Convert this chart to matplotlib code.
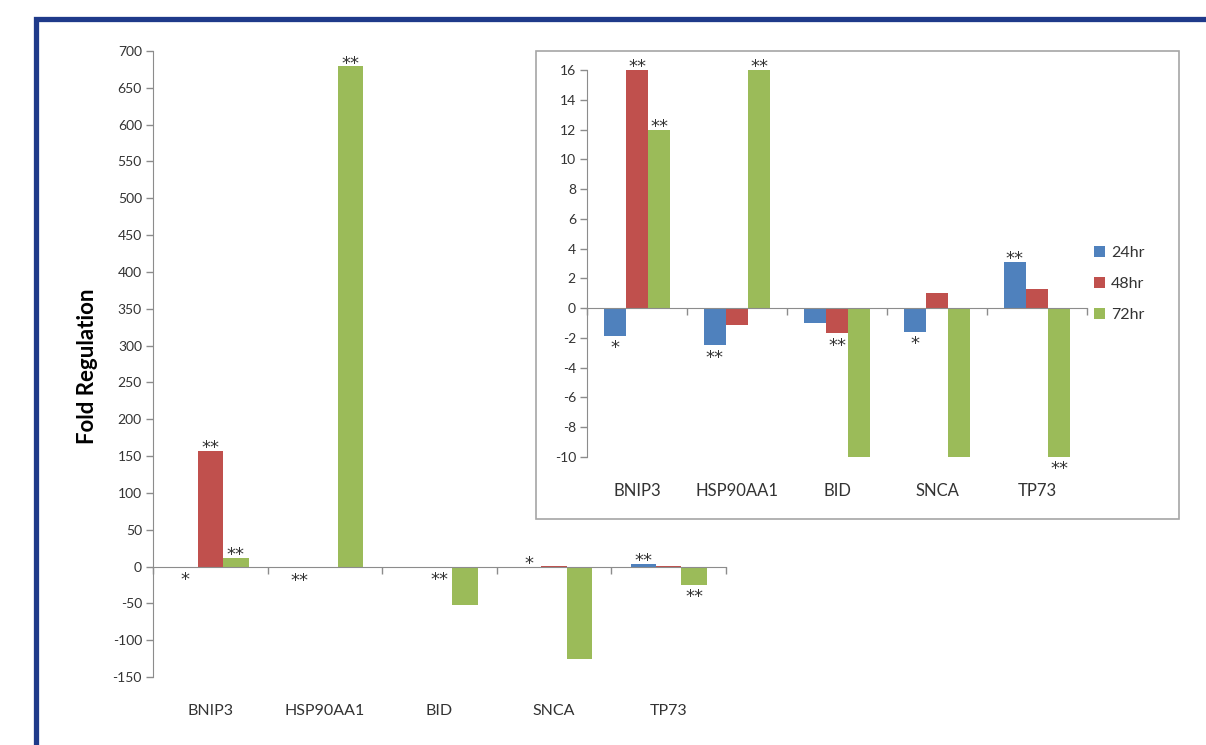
import numpy as np
import matplotlib
matplotlib.use("Agg")
import matplotlib.pyplot as plt
from matplotlib.patches import Rectangle

plt.rcParams['font.family'] = ['Lato', 'DejaVu Sans']

# ---- data -------------------------------------------------------------
genes = ["BNIP3", "HSP90AA1", "BID", "SNCA", "TP73"]
series = ["24hr", "48hr", "72hr"]
fold_24 = [-1.85, -2.5, -1.0, -1.6, 3.1]
fold_48 = [157.0, -1.1, -1.7, 1.05, 1.3]
fold_72 = [12.0, 679.0, -52.0, -126.0, -25.0]

# significance marks per gene (24hr, 48hr, 72hr)
sig_24 = ["*", "**", "", "*", "**"]
sig_48 = ["**", "", "**", "", ""]
sig_72 = ["**", "**", "", "", "**"]
# side of the mark in the overview panel (+1 above, -1 below)
side_24 = [-1, -1, 0, 1, 1]
side_48 = [1, 0, -1, 0, 0]
side_72 = [1, 1, 0, 0, -1]

main_yticks = list(range(-150, 701, 50))
inset_yticks = list(range(-10, 17, 2))

colors = ["#4F81BD", "#C0504D", "#9BBB59"]
axis_gray = "#8C8C8C"
text_col = "#333333"

W, H = 1206, 745
fig = plt.figure(figsize=(W / 100, H / 100), dpi=100)
fig.patch.set_facecolor("white")


def fx(px):
    return px / W


def fy(py):
    return 1 - py / H


values = [fold_24, fold_48, fold_72]
sigs = [sig_24, sig_48, sig_72]
sides = [side_24, side_48, side_72]
x = np.arange(len(genes))
bw = 1 / 4.5
offsets = [-bw, 0, bw]


def style_axes(ax, ylim, yticks, tick_fs, cat_fs):
    ax.set_xlim(-0.5, len(genes) - 0.5)
    ax.set_ylim(*ylim)
    ax.set_yticks(yticks)
    ax.set_yticklabels([str(t) for t in yticks], fontsize=tick_fs, color=text_col)
    ax.spines['top'].set_visible(False)
    ax.spines['right'].set_visible(False)
    ax.spines['left'].set_color(axis_gray)
    ax.spines['bottom'].set_color(axis_gray)
    ax.spines['bottom'].set_position(('data', 0))
    ax.set_xticks(np.arange(-0.5, len(genes), 1.0))
    ax.set_xticklabels([])
    ax.tick_params(axis='both', direction='out', length=5, width=1,
                   color=axis_gray, pad=3)
    ax.set_facecolor("none")
    for i, g in enumerate(genes):
        ax.annotate(g, xy=(i, 0), xycoords=('data', 'axes fraction'),
                    xytext=(0, -34 * 0.72), textcoords='offset points',
                    ha='center', va='center', fontsize=cat_fs, color=text_col)


STAR_FS = 13


def mark(ax, xpos, yval, s, up):
    # asterisks sit high in the em box, so anchor on the baseline
    if not s:
        return
    dy = -1.6 if up > 0 else -12.5
    ax.annotate(s, xy=(xpos, yval), xytext=(0, dy), textcoords='offset points',
                ha='center', va='baseline', fontsize=STAR_FS, color=text_col,
                family='DejaVu Sans', annotation_clip=False)


# ---- overview panel ---------------------------------------------------
ax = fig.add_axes([fx(153), fy(677), fx(726) - fx(153), fy(51) - fy(677)])
handles = []
for k in range(3):
    b = ax.bar(x + offsets[k], values[k], width=bw, color=colors[k],
               label=series[k], zorder=2)
    handles.append(b)
style_axes(ax, (-150, 700), main_yticks, 10, 11.5)
fig.text(fx(87), fy(366), "Fold Regulation", rotation=90, ha='center',
         va='center', fontsize=16, fontweight='bold', color='black')
for k in range(3):
    for i in range(len(genes)):
        v = values[k][i]
        side = sides[k][i]
        y = max(v, 0) if side > 0 else min(v, 0)
        mark(ax, x[i] + offsets[k], y, sigs[k][i], side)

# ---- zoomed inset -----------------------------------------------------
box = Rectangle((fx(536), fy(519)), fx(1179) - fx(536), fy(51) - fy(519),
                transform=fig.transFigure, facecolor="white",
                edgecolor="#A6A6A6", linewidth=1.2, zorder=3)
fig.patches.append(box)

axi = fig.add_axes([fx(587), fy(457), fx(1087) - fx(587), fy(70) - fy(457)],
                   zorder=4)
for k in range(3):
    axi.bar(x + offsets[k], values[k], width=bw, color=colors[k], zorder=2)
style_axes(axi, (-10, 16), inset_yticks, 10, 12)
lo, hi = -10, 16
for k in range(3):
    for i in range(len(genes)):
        v = min(max(values[k][i], lo), hi)
        mark(axi, x[i] + offsets[k], v, sigs[k][i], 1 if v > 0 else -1)

leg = fig.legend(handles=handles, labels=series, loc='center left',
                 bbox_to_anchor=(fx(1086), fy(284)), frameon=False,
                 fontsize=11.5, handlelength=0.7, handleheight=0.7,
                 handletextpad=0.35, labelspacing=1.05, borderpad=0)
for t in leg.get_texts():
    t.set_color(text_col)
leg.set_zorder(5)

# ---- page frame -------------------------------------------------------
frame = Rectangle((fx(35.5), -0.2), 1.5, fy(19.5) + 0.2,
                  transform=fig.transFigure, facecolor="none",
                  edgecolor="#1F3A8A", linewidth=3.8, zorder=6)
fig.patches.append(frame)

fig.savefig("out.png", dpi=100)
